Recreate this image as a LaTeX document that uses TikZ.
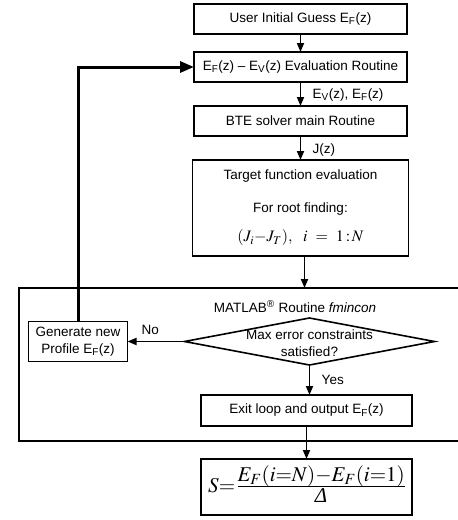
\documentclass[tikz,border=0pt]{standalone}
\usepackage{amsmath}
\usepackage{mathptmx}
\usepackage[no-math]{fontspec}
\setmainfont{Liberation Sans}
\newfontfamily\greekserif{Liberation Serif}
\usetikzlibrary{positioning,shapes.geometric,arrows.meta}

\begin{document}
\begin{tikzpicture}[x=1pt, y=-1pt,
    every node/.style={font=\fontsize{13.5}{17}\selectfont},
    block/.style={draw, line width=1.9pt, outer sep=0pt, minimum width=213pt, minimum height=30pt, inner sep=2pt, align=center},
    decision/.style={draw, diamond, line width=1.6pt, outer sep=0pt, minimum width=250pt, minimum height=47pt, inner sep=0pt},
    arr/.style={line width=1.8pt, -{Triangle[length=9pt, width=7pt]}},
    backarr/.style={line width=3pt, -{Triangle[length=14pt, width=11pt]}},
    framebox/.style={line width=1.9pt},
  ]
    \useasboundingbox (0,0) rectangle (458,520);

    % main column
    \node[block] (guess) at (300.5,19) {User Initial Guess E\textsubscript{F}(z)};
    \node[block, below=18pt of guess] (evalroutine) {E\textsubscript{F}(z) \textendash{} E\textsubscript{V}(z) Evaluation Routine};
    \node[block, below=24pt of evalroutine] (bte) {BTE solver main Routine};
    \node[block, below=24pt of bte, minimum width=216pt, minimum height=96pt] (target)
      {Target function evaluation\\[16pt] For root finding:\\[12pt]
       {\fontsize{16}{16}\selectfont $(J_i{-}J_T),\ \ i\ =\ 1\!:\!N$}};

    % optimiser frame
    \coordinate (ftr) at (458,288);
    \coordinate (ftl) at (19,288);
    \coordinate (fbl) at (19,441);
    \coordinate (fbr) at (458,441);
    \draw[framebox] (ftr) -- (ftl) -- (fbl) -- (fbr);
    \node (matlab) at (295,307) {MATLAB\textsuperscript{®} Routine \textit{fmincon}};

    \node[decision, below=62pt of target, xshift=9pt] (check) {};
    \node[align=center, yshift=-2pt] (checktext) at (check) {Max error constraints\\satisfied?};
    \node[block, minimum width=99pt, minimum height=40pt, left=57pt of check] (regen) {Generate new\\Profile E\textsubscript{F}(z)};
    \node[block, minimum width=211pt, minimum height=31pt, below=30pt of check, xshift=-3pt] (exitloop) {Exit loop and output E\textsubscript{F}(z)};
    \node[block, minimum width=211pt, minimum height=56pt, inner sep=0pt, below=33pt of exitloop] (slope)
      {\fontsize{21}{21}\selectfont $S{=}\,\begin{array}{@{}c@{}}E_F(i{=}N){-}E_F(i{=}1)\\[-2pt] \hline \rule{0pt}{16pt}\text{\greekserif\itshape Δ}\end{array}$};

    % connectors
    \draw[arr] (guess) -- (evalroutine);
    \draw[arr] (evalroutine) -- node[right=8pt, pos=0.55] {E\textsubscript{V}(z), E\textsubscript{F}(z)} (bte);
    \draw[arr] (bte) -- node[right=8pt, pos=0.6] {J(z)} (target);
    \draw[arr] ([xshift=4pt]target.south) -- ([xshift=4pt]target.south |- ftl);
    \draw[arr] (check.west) -- node[above=3pt, pos=0.6] {No} (regen.east);
    \draw[arr] (check.south) -- node[right=8pt] {Yes} (check.south |- exitloop.north);
    \draw[arr] (exitloop) -- (slope);
    \draw[backarr] (regen.north) |- (evalroutine.west);
\end{tikzpicture}
\end{document}
